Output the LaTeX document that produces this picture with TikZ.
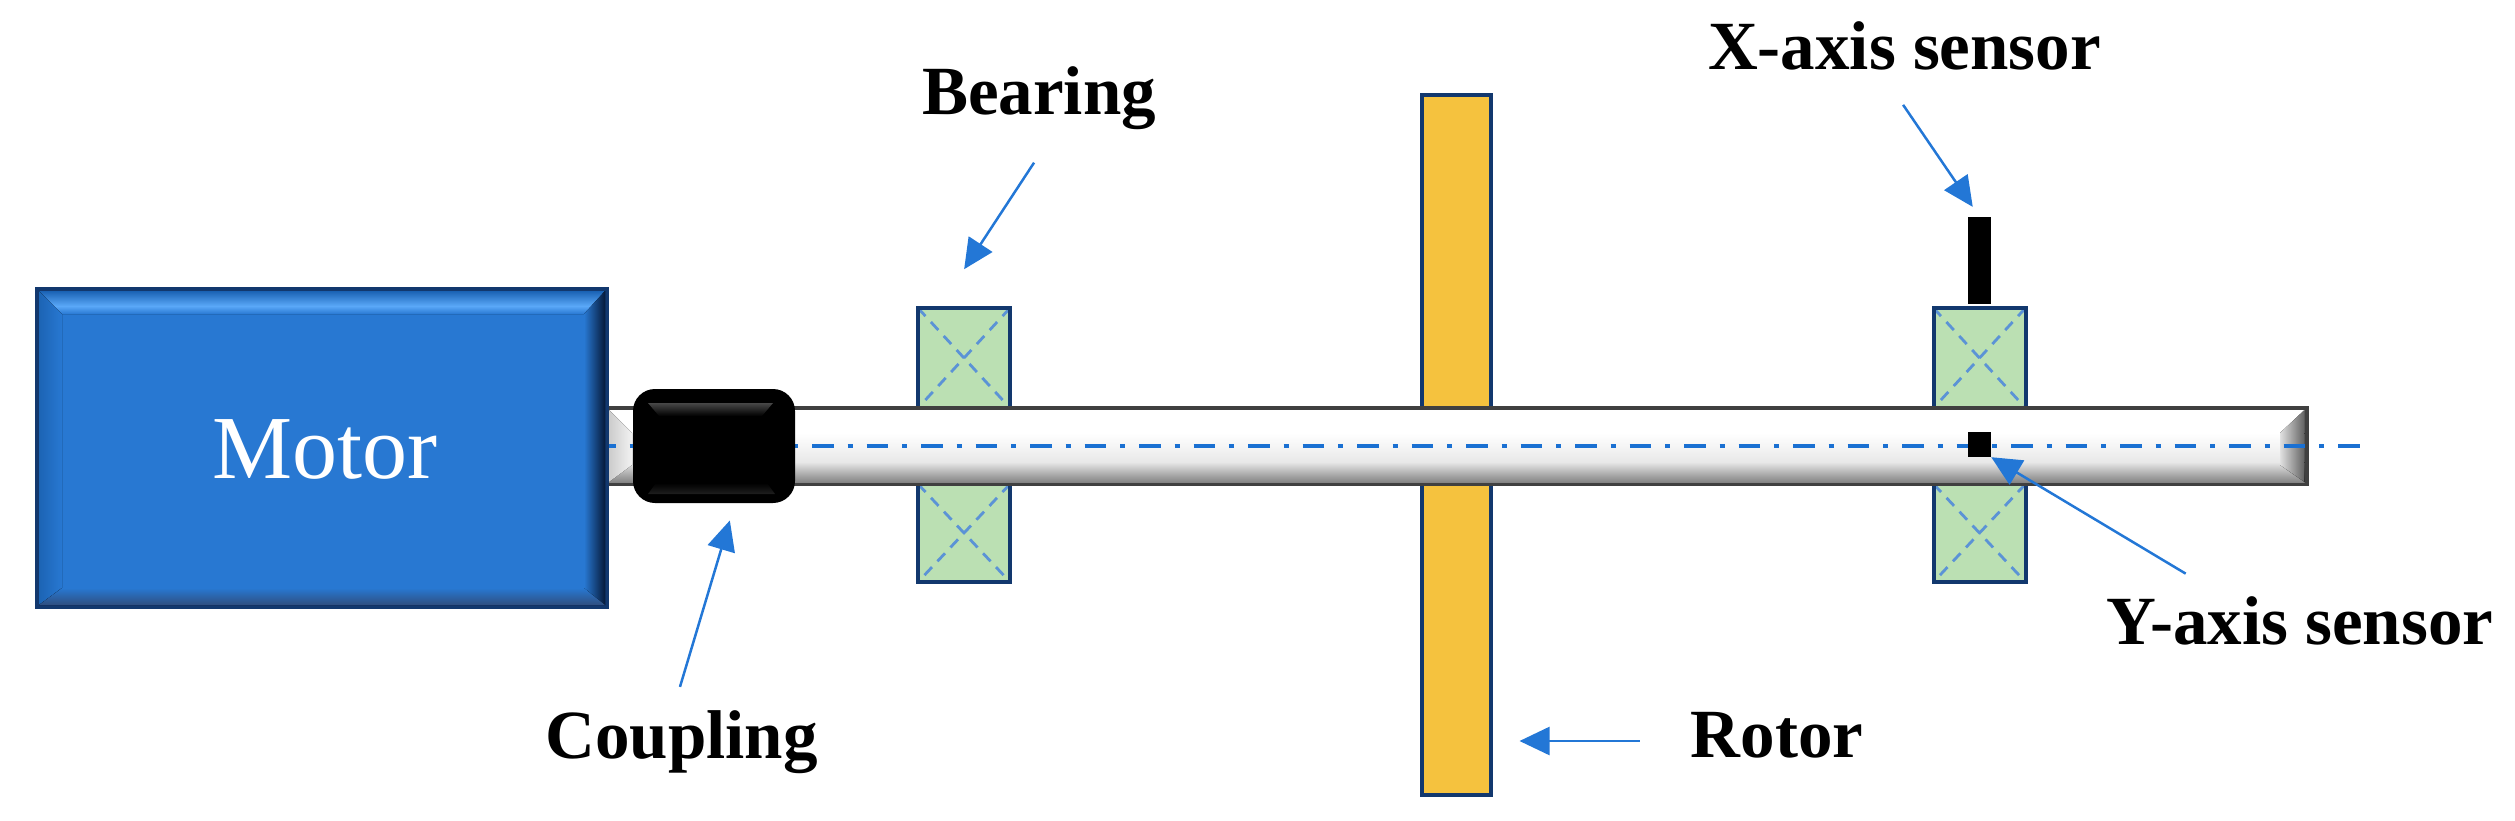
\documentclass[tikz,border=0pt]{standalone}
\usepackage{fontspec}
\usepackage{xcolor}
\usepackage{tikz}
\usetikzlibrary{arrows.meta}
\setmainfont{Liberation Serif}

\definecolor{motorblue}{HTML}{2878D2}
\definecolor{motorlight}{HTML}{5AA8F8}
\definecolor{motortop}{HTML}{1A62B4}
\definecolor{motorside}{HTML}{1C64B4}
\definecolor{motorlow}{HTML}{2F4F80}
\definecolor{motorright}{HTML}{061A3A}
\definecolor{edgeblue}{HTML}{12386E}
\definecolor{arrowblue}{HTML}{2377D6}
\definecolor{axisblue}{HTML}{1A70D2}
\definecolor{bearinggreen}{HTML}{BBE0B3}
\definecolor{crossblue}{HTML}{5B93D6}
\definecolor{rotoryellow}{HTML}{F5C23E}

\tikzset{
    caption/.style={inner sep=0pt, text height=46pt, text depth=14pt, font=\fontsize{69}{69}\selectfont\bfseries},
    pointer/.style={draw=arrowblue, line width=2.5pt, -{Triangle[length=30pt, width=28pt]}},
    bearingbox/.style={draw=edgeblue, line width=4pt, fill=bearinggreen, minimum width=92pt,
        path picture={
            \draw[crossblue, line width=2.8pt, dash pattern=on 11pt off 8pt]
                (path picture bounding box.north west) -- (path picture bounding box.south east)
                (path picture bounding box.north east) -- (path picture bounding box.south west);
        }},
    sensorbox/.style={fill=black, minimum width=23pt, inner sep=0pt}
}

\begin{document}
\begin{tikzpicture}[x=1pt, y=-1pt]
        \useasboundingbox (0,0) rectangle (2515,821);

        \node[draw=edgeblue, line width=4pt, fill=rotoryellow, minimum width=69pt, minimum height=699pt] (rotor) at (1456,445) {};

        \node[bearingbox, minimum height=100pt] (bearingAup) at (964,358) {};
        \node[bearingbox, minimum height=98pt] (bearingAlow) at (964,533) {};
        \node[bearingbox, minimum height=100pt] (bearingBup) at (1979.5,358) {};
        \node[bearingbox, minimum height=98pt] (bearingBlow) at (1979.5,533) {};

        \node[draw=black!75, line width=4pt, fill=white, minimum width=1700pt, minimum height=76pt] (shaft) at (1456.5,446) {};
        \fill[top color=white, bottom color=black!9] (609,433) rectangle (2304.5,462);
        \fill[top color=black!9, bottom color=black!48] (609,462) rectangle (2304.5,482);
        \fill[left color=black!12, right color=black!62] (2304.5,410) -- (2280,433) -- (2280,465) -- (2304.5,482) -- cycle;
        \fill[left color=black!20, right color=black!5] (609,410) -- (632,433) -- (632,465) -- (609,482) -- cycle;

        \coordinate (axisend) at (2366,446);
        \draw[axisblue, line width=4pt, dash pattern=on 21.5pt off 14pt on 5pt off 14pt, dash phase=10.5pt] (shaft.west) -- (axisend);

        \node[sensorbox, minimum height=87pt] (xsensor) at (1979.5,260.5) {};
        \node[sensorbox, minimum height=25pt] (ysensor) at (1979.5,444.5) {};

        \node[fill=black, rounded corners=22pt, minimum width=162pt, minimum height=114pt] (coupling) at (714,446) {};
        \fill[top color=black!72, bottom color=black] (648,403) -- (773,403) -- (762,416) -- (659,416) -- cycle;
        \fill[top color=black, bottom color=black!88] (656,483) -- (767,483) -- (775,494) -- (648,494) -- cycle;

        \node[draw=edgeblue, line width=4pt, fill=motorblue, minimum width=570pt, minimum height=318pt,
            inner sep=0pt, text=white, text height=60pt, text depth=0pt, font=\fontsize{90}{90}\selectfont] (motor) at (322,448) {\hspace*{5pt}Motor};
        \fill[top color=motortop, bottom color=motorlight] (39,291) -- (605,291) -- (592,306) -- (53,306) -- cycle;
        \fill[top color=motorlight, bottom color=motorblue] (53,306) -- (592,306) -- (584,314) -- (61,314) -- cycle;
        \fill[left color=motorside, right color=motorblue] (39,291) -- (62,314) -- (62,588) -- (39,605) -- cycle;
        \fill[left color=motorblue, right color=motorright] (584,314) -- (605,291) -- (605,605) -- (584,588) -- cycle;
        \fill[top color=motorblue, bottom color=motorlow] (62,588) -- (584,588) -- (605,605) -- (39,605) -- cycle;

        \node[caption] (bearinglabel) at (1039,99) {Bearing};
        \node[caption] (xlabel) at (1904.5,54) {X-axis sensor};
        \node[caption] (ylabel) at (2300,628) {Y-axis sensor};
        \node[caption] (couplinglabel) at (681.5,742) {Coupling};
        \node[caption] (rotorlabel) at (1777,741) {Rotor};

        \draw[pointer, shorten <=40pt, shorten >=44pt] ([xshift=17pt]bearinglabel.south) -- ([xshift=-24pt]bearingAup.north);
        \draw[pointer, shorten <=25pt, shorten >=12pt] ([xshift=-15.5pt]xlabel.south) -- (xsensor.north);
        \draw[pointer, shorten <=47pt] ([xshift=-74pt]ylabel.north) -- (ysensor.south east);
        \draw[pointer, shorten <=26pt, shorten >=18pt] ([xshift=-9pt]couplinglabel.north) -- ([xshift=21pt]coupling.south);
        \draw[pointer, shorten <=51pt, shorten >=27pt] (rotorlabel.west) -- (rotor.east |- rotorlabel.west);
    \end{tikzpicture}
\end{document}
